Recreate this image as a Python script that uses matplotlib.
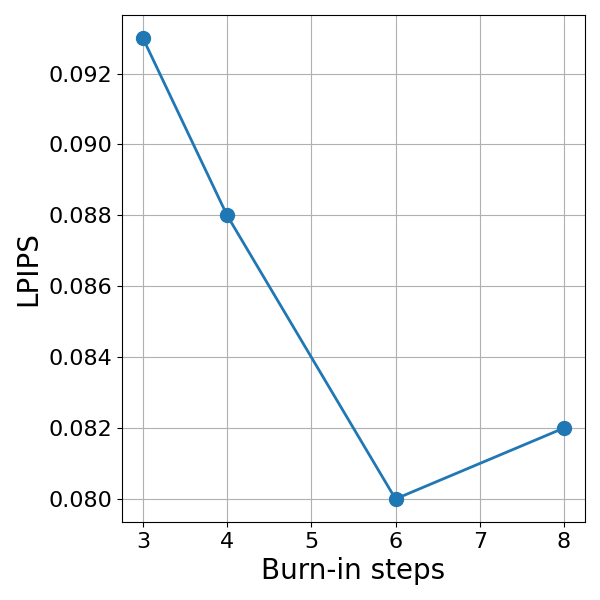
import matplotlib
matplotlib.use("Agg")
import matplotlib.pyplot as plt

burn_in_steps = [3, 4, 6, 8]
lpips = [0.093, 0.088, 0.080, 0.082]
yticks = [0.080, 0.082, 0.084, 0.086, 0.088, 0.090, 0.092]

fig, ax = plt.subplots(figsize=(6, 6), dpi=100)
ax.plot(burn_in_steps, lpips, marker='o', markersize=10, linewidth=2, color='#1f77b4')
ax.set_xlabel('Burn-in steps', fontsize=20)
ax.set_ylabel('LPIPS', fontsize=20)
ax.set_yticks(yticks)
ax.set_yticklabels(['%.3f' % v for v in yticks])
ax.tick_params(labelsize=16)
ax.grid(True)
fig.subplots_adjust(left=0.203, right=0.975, top=0.975, bottom=0.13)
fig.savefig('out.png')
